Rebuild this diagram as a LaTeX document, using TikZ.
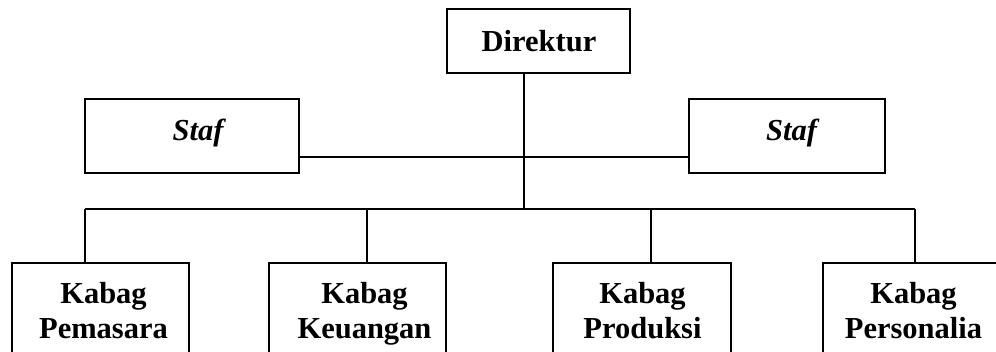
\documentclass[tikz,border=0pt]{standalone}
\usepackage{fontspec}
\setmainfont{Liberation Serif}
\begin{document}
\begin{tikzpicture}[x=1pt,y=-1pt,
  box/.style={draw, line width=2pt, outer sep=0pt, inner sep=0pt},
  kbox/.style={box, anchor=north, minimum height=100pt},
  txt/.style={inner sep=0pt, font=\fontsize{30.5}{35}\selectfont\bfseries},
  ktxt/.style={txt, anchor=north, align=center},
  stxt/.style={txt, anchor=base, font=\fontsize{30.5}{35}\selectfont\bfseries\itshape},
  conn/.style={line width=2pt}]
\useasboundingbox (0,0) rectangle (996,352);
\clip (0,0) rectangle (996,352);
% top boxes
\node[box, minimum width=183pt, minimum height=64pt] (dir) at (538.5,41) {};
\node[txt, anchor=base] (dirt) at (539,52) {Direktur};
\node[box, minimum width=214pt, minimum height=74pt] (ls) at (192,136) {};
\node[stxt] (lst) at (198,141) {Staf};
\node[box, minimum width=196pt, minimum height=74pt] (rs) at (787,136) {};
\node[stxt] (rst) at (791.5,141) {Staf};
% bottom boxes
\node[kbox, minimum width=177pt] (k1) at (100.5,263) {};
\node[kbox, minimum width=177pt] (k2) at (357.5,263) {};
\node[kbox, minimum width=178pt] (k3) at (642,263) {};
\node[kbox, minimum width=180pt] (k4) at (913,263) {};
\node[ktxt] (t1) at (103.5,278.5) {\strut Kabag\\\strut Pemasara};
\node[ktxt] (t2) at (364.5,278.5) {\strut Kabag\\\strut Keuangan};
\node[ktxt] (t3) at (642.5,278.5) {\strut Kabag\\\strut Produksi};
\node[ktxt] (t4) at (913.5,278.5) {\strut Kabag\\\strut Personalia};
% junctions
\coordinate (s) at (524,157);
\coordinate (j) at (524,209);
\coordinate (c1) at (85,209);
\coordinate (c2) at (367,209);
\coordinate (c3) at (651,209);
\coordinate (c4) at (915,209);
% connectors
\draw[conn] (dir.south -| j) -- (j);
\draw[conn] (ls.east |- s) -- (rs.west |- s);
\draw[conn] (c1) -- (c4);
\draw[conn] (c1) -- (c1 |- k1.north);
\draw[conn] (c2) -- (c2 |- k2.north);
\draw[conn] (c3) -- (c3 |- k3.north);
\draw[conn] (c4) -- (c4 |- k4.north);
\end{tikzpicture}
\end{document}
